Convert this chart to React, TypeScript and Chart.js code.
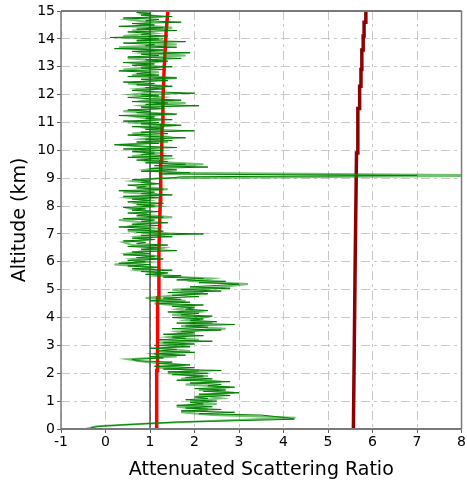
import React, { useEffect, useRef } from "react";
import { Chart, registerables } from "chart.js";

Chart.register(...registerables);

// Altitude sampling steps (km)
const DARK_STEP = 0.05;
const LIGHT_STEP = 0.1;

// Dark green profile (attenuated scattering ratio), altitude 0..15 km every 0.05 km
const DARK_GREEN = [
  -0.35, -0.32, -0.1, 0.4, 1.0, 1.6, 3.0, 4.24, 4.1, 3.8,
  3.5, 2.1, 2.9, 1.7, 2.6, 1.8, 2.4, 1.6, 2.2, 1.9,
  2.5, 1.8, 2.3, 2.0, 2.8, 2.1, 3.0, 2.2, 2.7, 2.0,
  2.9, 2.3, 2.6, 1.9, 2.8, 1.6, 2.4, 1.8, 2.2, 1.5,
  2.3, 1.4, 2.6, 1.3, 2.0, 1.1, 1.9, 1.2, 1.5, 0.7,
  0.6, 1.3, 1.0, 1.8, 1.1, 2.0, 1.2, 1.6, 1.0, 1.9,
  1.1, 2.0, 1.3, 2.4, 1.2, 1.8, 1.5, 2.2, 1.3, 2.0,
  1.7, 2.6, 1.5, 2.3, 1.8, 2.9, 1.6, 2.5, 1.9, 2.2,
  1.5, 2.4, 1.7, 2.1, 1.4, 2.3, 1.8, 2.0, 1.5, 2.2,
  1.2, 1.9, 1.0, 1.7, 1.3, 2.1, 1.5, 2.3, 1.4, 2.6,
  1.7, 2.8, 1.9, 2.5, 3.0, 2.1, 2.7, 1.6, 2.2, 1.3,
  1.7, 0.9, 1.4, 0.8, 1.5, 0.6, 1.2, 0.5, 1.0, 0.3,
  0.9, 0.5, 1.3, 0.7, 1.1, 0.4, 1.0, 0.6, 1.6, 0.8,
  1.2, 0.5, 1.4, 0.7, 0.9, 0.4, 1.1, 0.6, 1.5, 0.8,
  2.2, 0.7, 1.3, 0.5, 1.0, 0.3, 1.2, 0.6, 1.4, 0.8,
  1.1, 0.4, 1.3, 0.7, 1.0, 0.5, 1.2, 0.6, 0.9, 0.4,
  1.1, 0.7, 1.3, 0.5, 1.0, 0.6, 1.2, 0.4, 1.5, 0.8,
  1.1, 0.3, 1.3, 0.7, 0.9, 0.5, 1.2, 0.8, 1.0, 0.6,
  1.4, 1.7, 7.0, 1.2, 1.9, 0.8, 1.6, 1.0, 2.3, 1.1,
  1.8, 0.9, 1.4, 0.7, 1.2, 0.5, 1.5, 0.8, 1.1, 0.6,
  1.3, 0.4, 1.6, 0.8, 0.2, 1.2, 0.7, 1.5, 0.9, 1.8,
  1.0, 0.5, 1.4, 0.8, 2.0, 0.9, 1.3, 0.6, 1.7, 0.8,
  1.2, 0.4, 1.5, 0.9, 1.1, 0.3, 1.6, 0.7, 1.0, 0.5,
  1.3, 0.8, 2.1, 0.9, 1.4, 0.6, 1.7, 1.0, 0.5, 1.2,
  0.8, 2.0, 1.1, 0.6, 1.3, 0.9, 1.5, 0.7, 1.1, 0.4,
  1.4, 0.8, 1.6, 0.5, 1.2, 0.7, 1.0, 0.3, 1.3, 0.8,
  1.5, 0.6, 1.1, 0.4, 1.4, 0.9, 1.7, 0.5, 1.2, 0.8,
  1.9, 0.6, 1.3, 0.2, 1.6, 0.9, 1.1, 0.4, 1.8, 0.7,
  1.2, 0.1, 1.4, 0.8, 1.0, 0.5, 1.6, 0.7, 1.3, 0.3,
  1.1, 0.6, 1.7, 0.9, 1.2, 0.4, 1.5, 0.8, 1.0, 0.7,
  1.3,
];

// Light green profile, altitude 0..15 km every 0.1 km
const LIGHT_GREEN = [
  -0.45, -0.2, 1.0, 2.5, 4.27, 2.4, 1.7, 2.3, 1.6, 2.5,
  1.9, 2.6, 2.2, 2.9, 2.1, 2.8, 1.8, 2.6, 1.7, 2.3,
  1.4, 2.1, 1.2, 1.8, 0.9, 0.5, 1.6, 1.1, 1.9, 1.3,
  1.7, 1.2, 2.1, 1.4, 1.9, 1.6, 2.7, 1.7, 2.4, 1.8,
  2.2, 1.5, 2.1, 1.6, 1.9, 1.1, 1.8, 0.9, 1.6, 2.2,
  1.5, 2.6, 3.2, 2.0, 2.4, 1.1, 1.3, 0.7, 1.1, 0.2,
  1.0, 0.6, 1.2, 0.5, 0.9, 1.3, 0.6, 0.4, 1.0, 0.7,
  1.4, 0.5, 1.1, 0.6, 0.9, 0.3, 1.5, 0.8, 1.0, 0.6,
  1.2, 0.7, 1.0, 0.5, 1.3, 0.4, 1.4, 0.8, 1.1, 0.6,
  1.2, 9.5, 1.6, 0.9, 1.3, 2.2, 1.0, 1.4, 0.6, 1.2,
  0.7, 1.1, 0.3, 1.4, 0.8, 1.3, 0.6, 1.2, 0.9, 1.6,
  0.5, 1.1, 0.7, 1.5, 0.4, 1.2, 0.8, 1.8, 0.9, 1.3,
  0.6, 1.1, 0.7, 1.4, 0.5, 1.0, 1.6, 0.6, 1.2, 0.4,
  1.1, 0.7, 1.3, 0.5, 1.8, 0.8, 1.2, 0.3, 1.6, 0.7,
  1.3, 0.4, 1.1, 0.6, 1.5, 0.8, 1.0, 0.5, 1.2, 0.8,
  1.0,
];

// Red (molecular) profile
const RED_ALT = [0, 2.1, 2.1, 4.7, 4.7, 6.4, 7.0, 8.2, 9.6, 9.6, 10.9, 11.8, 13.0, 14.2, 15];
const RED_VAL = [1.15, 1.15, 1.17, 1.17, 1.19, 1.2, 1.21, 1.23, 1.24, 1.26, 1.27, 1.29, 1.32, 1.36, 1.4];

// Dark red profile
const DRED_ALT = [0, 3, 6, 9.9, 9.9, 11.5, 11.5, 12.3, 12.3, 12.9, 12.9, 13.6, 13.6, 14.1, 14.1, 14.6, 14.6, 15];
const DRED_VAL = [5.57, 5.59, 5.61, 5.64, 5.67, 5.67, 5.71, 5.71, 5.74, 5.74, 5.76, 5.76, 5.79, 5.79, 5.81, 5.81, 5.84, 5.85];

// Reference line at ratio = 1
const REF_ALT = [0, 15];
const REF_VAL = [1, 1];

const X_MIN = -1;
const X_MAX = 8;
const Y_MIN = 0;
const Y_MAX = 15;

const FONT = "'DejaVu Sans', Verdana, sans-serif";

const frame = {
  id: "frame",
  afterDatasetsDraw(chart: any) {
    const { ctx, chartArea } = chart;
    const { left, top, right, bottom } = chartArea;
    ctx.save();
    ctx.strokeStyle = "#7a7a7a";
    ctx.lineWidth = 2;
    ctx.beginPath();
    ctx.moveTo(left, top);
    ctx.lineTo(right, top);
    ctx.moveTo(left, bottom);
    ctx.lineTo(right, bottom);
    ctx.stroke();
    ctx.lineWidth = 1.5;
    ctx.beginPath();
    ctx.moveTo(left, top);
    ctx.lineTo(left, bottom);
    ctx.moveTo(right, top);
    ctx.lineTo(right, bottom);
    ctx.stroke();
    ctx.restore();
  },
};

export default function App() {
  const ref = useRef<HTMLCanvasElement | null>(null);

  useEffect(() => {
    if (!ref.current) return;
    const dark = DARK_GREEN.map((v, i) => ({ x: v, y: +(i * DARK_STEP).toFixed(3) }));
    const light = LIGHT_GREEN.map((v, i) => ({ x: v, y: +(i * LIGHT_STEP).toFixed(3) }));
    const red = RED_VAL.map((v, i) => ({ x: v, y: RED_ALT[i] }));
    const dred = DRED_VAL.map((v, i) => ({ x: v, y: DRED_ALT[i] }));
    const refl = REF_VAL.map((v, i) => ({ x: v, y: REF_ALT[i] }));

    const common = { showLine: true, pointRadius: 0, pointHoverRadius: 0, fill: false, tension: 0 };

    const chart = new Chart(ref.current, {
      type: "scatter",
      data: {
        datasets: [
          { ...common, label: "light", data: light, borderColor: "rgba(0,140,0,0.55)", borderWidth: 2 },
          { ...common, label: "dark", data: dark, borderColor: "#007a00", borderWidth: 1 },
          { ...common, label: "ref", data: refl, borderColor: "#000000", borderWidth: 1 },
          { ...common, label: "red", data: red, borderColor: "#ff0000", borderWidth: 3.5 },
          { ...common, label: "dred", data: dred, borderColor: "#8b0000", borderWidth: 3.5 },
        ],
      },
      options: {
        responsive: false,
        animation: false,
        devicePixelRatio: 1,
        layout: { padding: { top: 11, right: 4, left: 0, bottom: 0 } },
        plugins: { legend: { display: false }, tooltip: { enabled: false } },
        scales: {
          x: {
            type: "linear",
            min: X_MIN,
            max: X_MAX,
            afterFit: (s: any) => {
              s.height = 54;
            },
            ticks: { stepSize: 1, color: "#000", font: { family: FONT, size: 14 }, padding: 1, maxRotation: 0 },
            grid: { color: "#c8c8c8", lineWidth: 1, tickLength: 4, tickColor: "#606060" },
            border: { display: false, dash: [9, 4, 3, 4] },
            title: {
              display: true,
              text: "Attenuated Scattering Ratio",
              color: "#000",
              font: { family: FONT, size: 19 },
              padding: { top: 0, bottom: 2 },
            },
          },
          y: {
            type: "linear",
            min: Y_MIN,
            max: Y_MAX,
            afterFit: (s: any) => {
              s.width = 61;
            },
            ticks: { stepSize: 1, color: "#000", font: { family: FONT, size: 14 }, padding: 2 },
            grid: { color: "#c8c8c8", lineWidth: 1, tickLength: 4, tickColor: "#606060" },
            border: { display: false, dash: [9, 4, 3, 4] },
            title: {
              display: true,
              text: "Altitude (km)",
              color: "#000",
              font: { family: FONT, size: 19 },
              padding: { top: 9, bottom: 0 },
            },
          },
        },
      },
      plugins: [frame],
    });
    return () => chart.destroy();
  }, []);

  return (
    <div style={{ position: "absolute", left: 0, top: 0, width: 467, height: 483, background: "#fff" }}>
      <canvas ref={ref} width={467} height={483} />
    </div>
  );
}
